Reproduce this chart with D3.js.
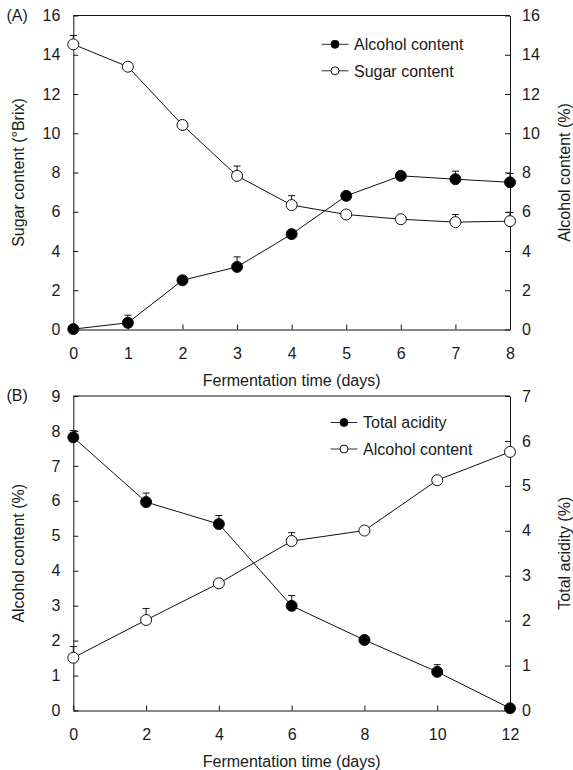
<!DOCTYPE html>
<html>
<head>
<meta charset="utf-8">
<script src="https://cdn.jsdelivr.net/npm/d3@7"></script>
<style>
  body { margin: 0; background: #fff; }
  svg { display: block; }
  text { font-family: "Liberation Sans", Arial, sans-serif; fill: #1a1a1a; }
</style>
</head>
<body>
<svg id="chart" width="573" height="770"></svg>
<script>
"use strict";

// panel A
const days_a = [0, 1, 2, 3, 4, 5, 6, 7, 8];
const sugar_a = [14.53, 13.39, 10.42, 7.83, 6.34, 5.86, 5.62, 5.47, 5.52];
const sugar_a_err = [0.45, 0.1, 0.12, 0.5, 0.48, 0.1, 0.05, 0.39, 0.44];
const alcohol_a = [0.02, 0.34, 2.51, 3.19, 4.86, 6.81, 7.83, 7.66, 7.50];
const alcohol_a_err = [0, 0.39, 0.1, 0.51, 0.1, 0.1, 0.1, 0.41, 0.45];
const ticks_a_left = [0, 2, 4, 6, 8, 10, 12, 14, 16];
const ticks_a_right = [0, 2, 4, 6, 8, 10, 12, 14, 16];

// panel B
const days_b = [0, 2, 4, 6, 8, 10, 12];
const acidity_b = [6.08, 4.64, 4.15, 2.33, 1.57, 0.86, 0.05];
const acidity_b_err = [0.15, 0.2, 0.19, 0.23, 0.05, 0.16, 0.02];
const alcohol_b = [1.51, 2.59, 3.64, 4.85, 5.15, 6.59, 7.40];
const alcohol_b_err = [0.32, 0.33, 0.1, 0.24, 0.05, 0.05, 0.05];
const ticks_b_left = [0, 1, 2, 3, 4, 5, 6, 7, 8, 9];
const ticks_b_right = [0, 1, 2, 3, 4, 5, 6, 7];

const svg = d3.select("#chart");
const FONT = 16;
const X0 = 73.3, X1 = 510;
const R = 5.5;
const fmt = d3.format("d");

function makePanel(spec) {
    const xScale = d3.scaleLinear().domain(spec.xdomain).range([X0, X1]);
    const yLeft = d3.scaleLinear().domain(spec.ldomain).range([spec.bottom, spec.top]);
    const yRight = d3.scaleLinear().domain(spec.rdomain).range([spec.bottom, spec.top]);
    const g = svg.append("g");

    // top border
    g.append("line")
        .attr("x1", X0).attr("x2", X1)
        .attr("y1", spec.top).attr("y2", spec.top)
        .attr("stroke", "#111").attr("stroke-width", 1);

    const ax_x = g.append("g")
        .attr("transform", `translate(0,${spec.bottom})`)
        .call(d3.axisBottom(xScale).tickValues(spec.xticks).tickFormat(fmt)
            .tickSize(-5).tickSizeOuter(0).tickPadding(18.5));
    const ax_l = g.append("g")
        .attr("transform", `translate(${X0},0)`)
        .call(d3.axisLeft(yLeft).tickValues(spec.lticks).tickFormat(fmt)
            .tickSize(-5).tickSizeOuter(0).tickPadding(13));
    const ax_r = g.append("g")
        .attr("transform", `translate(${X1},0)`)
        .call(d3.axisRight(yRight).tickValues(spec.rticks).tickFormat(fmt)
            .tickSize(-5).tickSizeOuter(0).tickPadding(12));
    for (let ax of [ax_x, ax_l, ax_r]) {
        ax.attr("font-size", FONT).attr("font-family", null);
        ax.selectAll("path, line").attr("stroke", "#111").attr("stroke-width", 1);
        ax.selectAll("text").attr("fill", "#1a1a1a");
    }

    // axis titles
    g.append("text")
        .attr("x", (X0 + X1) / 2)
        .attr("y", spec.bottom + 56)
        .attr("text-anchor", "middle")
        .attr("font-size", FONT)
        .text("Fermentation time (days)");
    const mid = (spec.top + spec.bottom) / 2;
    g.append("text")
        .attr("transform", `translate(24,${mid}) rotate(-90)`)
        .attr("text-anchor", "middle")
        .attr("font-size", FONT)
        .text(spec.ltitle);
    g.append("text")
        .attr("transform", `translate(570,${mid}) rotate(-90)`)
        .attr("text-anchor", "middle")
        .attr("font-size", FONT)
        .text(spec.rtitle);
    g.append("text")
        .attr("x", 6.5)
        .attr("y", spec.top + 5)
        .attr("font-size", FONT)
        .text(spec.label);

    return { g: g, xScale: xScale, yLeft: yLeft, yRight: yRight, spec: spec };
}

function plotSeries(panel, xs, ys, errs, yScale, filled) {
    const g = panel.g.append("g");
    const line = d3.line().x(d => panel.xScale(d[0])).y(d => yScale(d[1]));
    const pts = xs.map((x, i) => [x, ys[i], errs[i]]);
    // error bars (upper only)
    for (let p of pts) {
        const cx = panel.xScale(p[0]);
        const y_top = yScale(p[1] + p[2]);
        g.append("line")
            .attr("x1", cx).attr("x2", cx)
            .attr("y1", yScale(p[1])).attr("y2", y_top)
            .attr("stroke", "#111").attr("stroke-width", 1);
        g.append("line")
            .attr("x1", cx - 3.5).attr("x2", cx + 3.5)
            .attr("y1", y_top).attr("y2", y_top)
            .attr("stroke", "#111").attr("stroke-width", 1);
    }
    g.append("path")
        .datum(pts)
        .attr("d", line)
        .attr("fill", "none")
        .attr("stroke", "#111")
        .attr("stroke-width", 1);
    g.selectAll("circle")
        .data(pts)
        .join("circle")
        .attr("cx", d => panel.xScale(d[0]))
        .attr("cy", d => yScale(d[1]))
        .attr("r", R)
        .attr("fill", filled ? "#000" : "#fff")
        .attr("stroke", "#111")
        .attr("stroke-width", 1);
}

function legend(panel, x, y, items) {
    items.forEach((it, i) => {
        const yy = y + i * 26.5;
        panel.g.append("line")
            .attr("x1", x).attr("x2", x + 27)
            .attr("y1", yy).attr("y2", yy)
            .attr("stroke", "#333").attr("stroke-width", 1);
        panel.g.append("circle")
            .attr("cx", x + 13.5).attr("cy", yy).attr("r", 4)
            .attr("fill", it.filled ? "#000" : "#fff")
            .attr("stroke", "#111").attr("stroke-width", 1);
        panel.g.append("text")
            .attr("x", x + 32.5).attr("y", yy + 5.7)
            .attr("font-size", FONT)
            .text(it.name);
    });
}

const panel_a = makePanel({
    top: 15.5, bottom: 329.5,
    xdomain: [0, 8], xticks: days_a,
    ldomain: [0, 16], lticks: ticks_a_left,
    rdomain: [0, 16], rticks: ticks_a_right,
    ltitle: "Sugar content (°Brix)",
    rtitle: "Alcohol content (%)",
    label: "(A)"
});
plotSeries(panel_a, days_a, sugar_a, sugar_a_err, panel_a.yLeft, false);
plotSeries(panel_a, days_a, alcohol_a, alcohol_a_err, panel_a.yRight, true);
legend(panel_a, 321.5, 44.3, [
    { name: "Alcohol content", filled: true },
    { name: "Sugar content", filled: false }
]);

const panel_b = makePanel({
    top: 396, bottom: 710.5,
    xdomain: [0, 12], xticks: days_b,
    ldomain: [0, 9], lticks: ticks_b_left,
    rdomain: [0, 7], rticks: ticks_b_right,
    ltitle: "Alcohol content (%)",
    rtitle: "Total acidity (%)",
    label: "(B)"
});
plotSeries(panel_b, days_b, alcohol_b, alcohol_b_err, panel_b.yLeft, false);
plotSeries(panel_b, days_b, acidity_b, acidity_b_err, panel_b.yRight, true);
legend(panel_b, 330.5, 422.5, [
    { name: "Total acidity", filled: true },
    { name: "Alcohol content", filled: false }
]);
</script>
</body>
</html>
